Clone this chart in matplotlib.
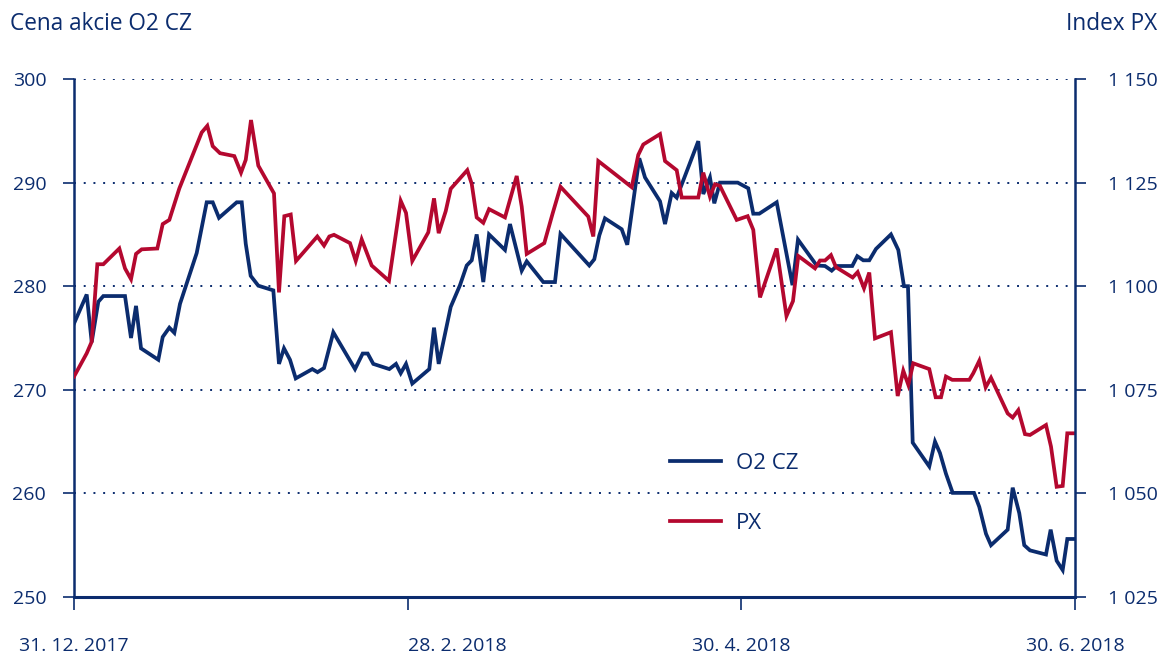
import matplotlib.pyplot as plt

plt.rcParams['font.family'] = ['Open Sans', 'DejaVu Sans']

NAVY = '#0b2c6e'
RED = '#b4082f'

# x = days from 31.12.2017 (axis spans 0..180)
o2_x = [0, 2.28, 3.18, 4.37, 5.27, 9.17, 10.25, 11.15, 12.05, 15.16, 15.95, 17.14, 18.04,
        19.06, 22.06, 23.86, 24.94, 26.07, 29.26, 30.16, 30.88, 31.77, 33.14, 35.84, 36.86,
        37.76, 38.84, 39.87, 42.85, 43.79, 44.96, 46.63, 50.53, 51.91, 52.81, 53.82, 56.70,
        57.90, 58.75, 59.70, 60.83, 63.89, 64.74, 65.58, 67.74, 69.41, 70.62, 71.52, 72.41,
        73.60, 74.63, 77.50, 78.40, 80.51, 81.41, 84.39, 86.49, 87.48, 92.66, 93.56, 94.46,
        95.48, 98.49, 99.49, 101.65, 102.68, 105.38, 106.28, 107.48, 108.38, 112.26, 113.16,
        114.36, 115.14, 116.16, 119.35, 121.25, 122.15, 123.23, 126.36, 129.20, 130.19,
        133.55, 135.05, 136.25, 137.15, 139.95, 140.85, 141.93, 143.01, 144.22, 146.91,
        148.23, 149.25, 149.97, 150.82, 153.80, 154.83, 155.72, 156.80, 158.01, 161.84,
        162.79, 164.00, 164.90, 167.90, 168.80, 169.98, 170.88, 171.91, 174.79, 175.63,
        176.71, 177.79, 178.62, 180]
o2_y = [276.4, 279.2, 274.6, 278.5, 279.05, 279.05, 275.0, 278.1, 274.0, 272.9, 275.1, 276.0,
        275.5, 278.3, 283.2, 288.1, 288.1, 286.6, 288.1, 288.1, 284.1, 281.0, 280.05, 279.6,
        272.5, 274.0, 272.9, 271.1, 272.0, 271.7, 272.1, 275.55, 272.0, 273.5, 273.5, 272.5,
        272.0, 272.5, 271.6, 272.5, 270.6, 272.0, 276.0, 272.5, 278.0, 280.1, 282.0, 282.5,
        285.0, 280.4, 285.0, 283.5, 286.0, 281.5, 282.4, 280.4, 280.4, 285.05, 282.0, 282.6,
        284.9, 286.55, 285.5, 284.0, 292.35, 290.5, 288.2, 286.0, 289.0, 288.55, 294.0, 288.9,
        290.5, 288.0, 290.0, 290.0, 289.45, 287.0, 287.0, 288.1, 280.1, 284.5, 282.0, 281.95,
        281.5, 281.95, 281.95, 282.9, 282.5, 282.5, 283.6, 285.0, 283.5, 280.0, 280.0, 264.9,
        262.6, 265.0, 263.9, 261.9, 260.05, 260.05, 258.7, 256.1, 255.0, 256.5, 260.55, 258.1,
        255.0, 254.5, 254.1, 256.5, 253.5, 252.6, 255.6, 255.6]

px_x = [0, 2.28, 3.18, 4.19, 5.27, 8.15, 9.17, 10.25, 11.15, 12.17, 14.98, 15.95, 17.14,
        18.94, 22.96, 23.97, 24.94, 26.25, 28.83, 30.03, 30.88, 31.83, 33.14, 35.96, 36.86,
        37.82, 38.97, 39.92, 43.75, 44.96, 45.91, 46.75, 49.63, 50.66, 51.73, 53.53, 56.64,
        58.75, 59.70, 60.83, 63.71, 64.74, 65.58, 66.84, 67.74, 70.72, 71.52, 72.41, 73.60,
        74.63, 77.50, 79.61, 80.51, 81.41, 84.57, 86.08, 87.48, 92.48, 93.38, 94.28, 98.49,
        100.29, 101.47, 102.37, 105.38, 106.28, 108.38, 109.28, 112.26, 113.16, 114.36,
        115.26, 116.16, 119.17, 121.14, 122.15, 123.36, 126.36, 128.12, 129.29, 130.24,
        133.25, 134.15, 135.05, 136.12, 137.02, 140.02, 140.92, 142.06, 143.01, 144.04,
        146.91, 148.12, 149.13, 150.03, 150.92, 153.80, 154.95, 155.91, 156.80, 157.94,
        161.00, 161.71, 162.79, 163.94, 164.90, 167.90, 168.80, 169.81, 171.01, 171.91,
        174.79, 175.69, 176.71, 177.79, 178.62, 180]
px_y = [1078.2, 1083.8, 1086.6, 1105.3, 1105.3, 1109.1, 1104.3, 1101.7, 1107.8, 1108.9, 1109.1,
        1115.0, 1116.0, 1123.6, 1137.1, 1138.7, 1133.8, 1132.1, 1131.4, 1127.4, 1130.5, 1140.1,
        1129.1, 1122.4, 1098.5, 1116.9, 1117.3, 1106.1, 1112.0, 1109.8, 1112.0, 1112.4, 1110.4,
        1106.1, 1111.3, 1105.0, 1101.3, 1120.6, 1117.7, 1106.1, 1113.0, 1121.2, 1112.8, 1118.1,
        1123.5, 1128.0, 1124.7, 1116.6, 1115.3, 1118.6, 1116.6, 1126.6, 1119.2, 1107.8, 1110.4,
        1117.6, 1124.0, 1116.8, 1112.0, 1130.2, 1125.8, 1123.9, 1131.7, 1134.2, 1136.7, 1130.2,
        1128.0, 1121.4, 1121.4, 1127.4, 1121.6, 1124.6, 1124.2, 1116.0, 1116.9, 1113.6, 1097.3,
        1109.1, 1092.8, 1096.4, 1107.3, 1104.3, 1106.2, 1106.2, 1107.5, 1104.6, 1102.1, 1103.4,
        1099.5, 1103.3, 1087.4, 1088.9, 1073.5, 1079.6, 1076.2, 1081.4, 1080.0, 1073.2, 1073.2,
        1078.2, 1077.4, 1077.4, 1079.0, 1082.0, 1075.6, 1077.9, 1069.3, 1068.3, 1070.1, 1064.3,
        1064.1, 1066.5, 1061.3, 1051.6, 1051.8, 1064.5, 1064.5]

x_ticks = [0, 60, 120, 180]
x_labels = ['31. 12. 2017', '28. 2. 2018', '30. 4. 2018', '30. 6. 2018']
left_ticks = [250, 260, 270, 280, 290, 300]
right_ticks = [1025, 1050, 1075, 1100, 1125, 1150]
right_labels = ['1 025', '1 050', '1 075', '1 100', '1 125', '1 150']

fig = plt.figure(figsize=(11.62, 6.59), dpi=100)
ax = fig.add_axes([0.0637, 0.0941, 0.9251 - 0.0637, 0.8801 - 0.0941])
ax2 = ax.twinx()

l1, = ax.plot(o2_x, o2_y, color=NAVY, lw=2.7, label='O2 CZ', solid_joinstyle='miter')
l2, = ax2.plot(px_x, px_y, color=RED, lw=2.7, label='PX', solid_joinstyle='miter')

ax.set_xlim(0, 180)
ax.set_ylim(250, 300)
ax2.set_ylim(1025, 1150)

ax.set_yticks(left_ticks)
ax2.set_yticks(right_ticks)
ax2.set_yticklabels(right_labels)
ax.set_xticks(x_ticks)
ax.set_xticklabels(x_labels)
ax.xaxis.get_ticklabels()[1].set_horizontalalignment('left')

for a in (ax, ax2):
    for s in a.spines.values():
        s.set_visible(False)
    a.tick_params(colors=NAVY, labelcolor=NAVY, labelsize=14, width=1.2, length=8)
ax.spines['left'].set_visible(True)
ax.spines['bottom'].set_visible(True)
ax2.spines['right'].set_visible(True)
ax.spines['left'].set_color(NAVY)
ax.spines['left'].set_linewidth(1.8)
ax.spines['bottom'].set_color(NAVY)
ax.spines['bottom'].set_linewidth(2.2)
ax2.spines['right'].set_color(NAVY)
ax2.spines['right'].set_linewidth(1.8)
ax.tick_params(axis='y', pad=12)
ax2.tick_params(axis='y', pad=16)
ax.tick_params(axis='x', pad=20, length=9)

for v in left_ticks[1:]:
    ax.axhline(v, color=NAVY, lw=1.4, ls=(0, (1, 4)), zorder=0)

fig.text(0.009, 0.955, 'Cena akcie O2 CZ', color=NAVY, fontsize=16.3, va='baseline')
fig.text(0.996, 0.955, 'Index PX', color=NAVY, fontsize=16.3, va='baseline', ha='right')

leg = ax.legend(handles=[l1, l2], loc='upper left', bbox_to_anchor=(0.595, 0.278),
                frameon=False, fontsize=16, handlelength=2.3, handletextpad=0.7,
                labelspacing=1.75, borderpad=0, borderaxespad=0)
for t in leg.get_texts():
    t.set_color(NAVY)

fig.savefig('out.png', dpi=100)
